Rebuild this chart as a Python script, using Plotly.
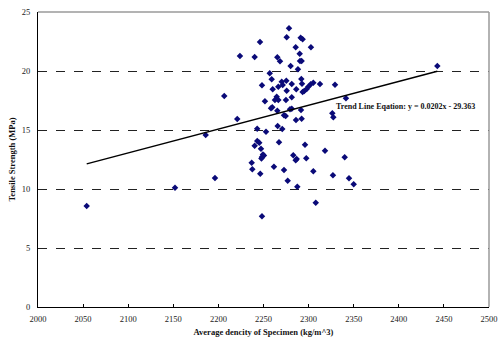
import plotly.graph_objects as go

# Average density of specimen (kg/m^3) and tensile strength (MPa)
density = [
    2278.3, 2275.7, 2291.2, 2293.4, 2246.1, 2285.7, 2302.6, 2223.9, 2240.2, 2265.3,
    2268.3, 2290.1, 2290.5, 2292.3, 2280.1, 2288.2, 2256.9, 2259.1, 2291.9, 2248.3,
    2270.2, 2275.3, 2292.7, 2260.2, 2266.4, 2271.3, 2281.3, 2275.7, 2286.3, 2305.2,
    2302.3, 2299.7, 2297.9, 2295.2, 2293.4, 2312.6, 2329.3, 2206.5, 2264.6, 2262.7,
    2266.4, 2251.6, 2274.9, 2281.3, 2259.7, 2258.3, 2265.3, 2281.3, 2279.4, 2291.6,
    2326.3, 2327.4, 2272.7, 2274.6, 2220.9, 2286.0, 2292.3, 2243.0, 2252.8, 2265.7,
    2270.8, 2196.2, 2240.2, 2243.1, 2245.3, 2247.2, 2249.4, 2250.5, 2248.3, 2247.7,
    2267.2, 2296.0, 2283.0, 2286.8, 2285.7, 2297.4, 2318.2, 2340.0, 2236.9, 2237.6,
    2261.6, 2246.4, 2272.7, 2305.2, 2327.0, 2344.8, 2350.0, 2276.8, 2287.5, 2307.9,
    2248.3, 2442.7, 2341.4, 2185.9, 2054.0, 2151.9,
]
strength = [
    23.62, 22.86, 22.82, 22.69, 22.46, 22.01, 22.01, 21.27, 21.19, 21.16,
    20.82, 21.47, 20.85, 20.85, 20.42, 20.14, 19.81, 19.30, 19.32, 18.79,
    19.09, 19.18, 18.92, 18.45, 18.67, 18.81, 18.90, 18.33, 18.45, 19.01,
    18.87, 18.67, 18.47, 18.31, 18.22, 18.90, 18.84, 17.88, 17.82, 17.54,
    17.54, 17.43, 17.54, 17.77, 16.92, 16.84, 16.64, 16.81, 16.75, 16.69,
    16.42, 16.08, 16.25, 16.19, 15.93, 15.85, 15.96, 15.11, 14.86, 15.34,
    15.08, 10.93, 13.67, 14.07, 13.92, 13.42, 12.92, 12.84, 12.71, 12.58,
    13.96, 13.75, 12.86, 12.54, 12.43, 12.60, 13.25, 12.69, 12.23, 11.67,
    11.89, 11.30, 11.61, 11.50, 11.16, 10.91, 10.40, 10.70, 10.19, 8.84,
    7.69, 20.42, 17.69, 14.58, 8.56, 10.11,
]

# Linear trend line: y = slope * x + intercept
slope = 0.0202
intercept = -29.363
trend_x = [min(density), max(density)]
trend_y = [slope * v + intercept for v in trend_x]

x_ticks = list(range(2000, 2501, 50))
y_ticks = [0, 5, 10, 15, 20, 25]

serif = "Liberation Serif, Times New Roman, serif"

fig = go.Figure()
fig.add_trace(go.Scatter(
    x=density, y=strength, mode="markers",
    marker=dict(symbol="diamond", size=5, color="#0a0a78"),
    showlegend=False,
))
fig.add_trace(go.Scatter(
    x=trend_x, y=trend_y, mode="lines",
    line=dict(color="black", width=1.5),
    showlegend=False,
))

fig.add_annotation(
    x=2407, y=17.0, xref="x", yref="y",
    text="<b>Trend Line Eqation: y = 0.0202x - 29.363</b>",
    showarrow=False, font=dict(family=serif, size=8, color="#111"),
)

# Plot-area border on the top and right edges
fig.add_shape(type="line", xref="paper", yref="paper", x0=0, x1=1, y0=1, y1=1,
              line=dict(color="#9a9a9a", width=1.5), layer="above")
fig.add_shape(type="line", xref="paper", yref="paper", x0=1, x1=1, y0=0, y1=1,
              line=dict(color="#9a9a9a", width=1.5), layer="above")

fig.update_layout(
    width=500, height=337,
    margin=dict(l=38, r=11, t=12, b=30),
    paper_bgcolor="white", plot_bgcolor="white",
    font=dict(family=serif, size=9, color="#222"),
)
fig.update_xaxes(
    range=[2000, 2500], tickvals=x_ticks, showgrid=False, zeroline=False,
    automargin=False,
    showline=True, linecolor="black", linewidth=1.2,
    ticks="inside", ticklen=3, tickcolor="black", ticklabelstandoff=4,
    tickfont=dict(family=serif, size=8.5, color="#222"),
    title=dict(text="<b>Average dencity of Specimen (kg/m^3)</b>",
               font=dict(family=serif, size=8.5, color="#111"), standoff=6),
)
fig.update_yaxes(
    range=[0, 25], tickvals=y_ticks, zeroline=False,
    automargin=False,
    showgrid=True, gridcolor="#222", griddash="dash", gridwidth=1,
    showline=True, linecolor="black", linewidth=1.2, ticks="",
    ticklabelstandoff=5,
    tickfont=dict(family=serif, size=8.5, color="#222"),
    title=dict(text="<b>Tensile Strength (MPa)</b>",
               font=dict(family=serif, size=8.5, color="#111"), standoff=4),
)

fig.write_html("out.html")
